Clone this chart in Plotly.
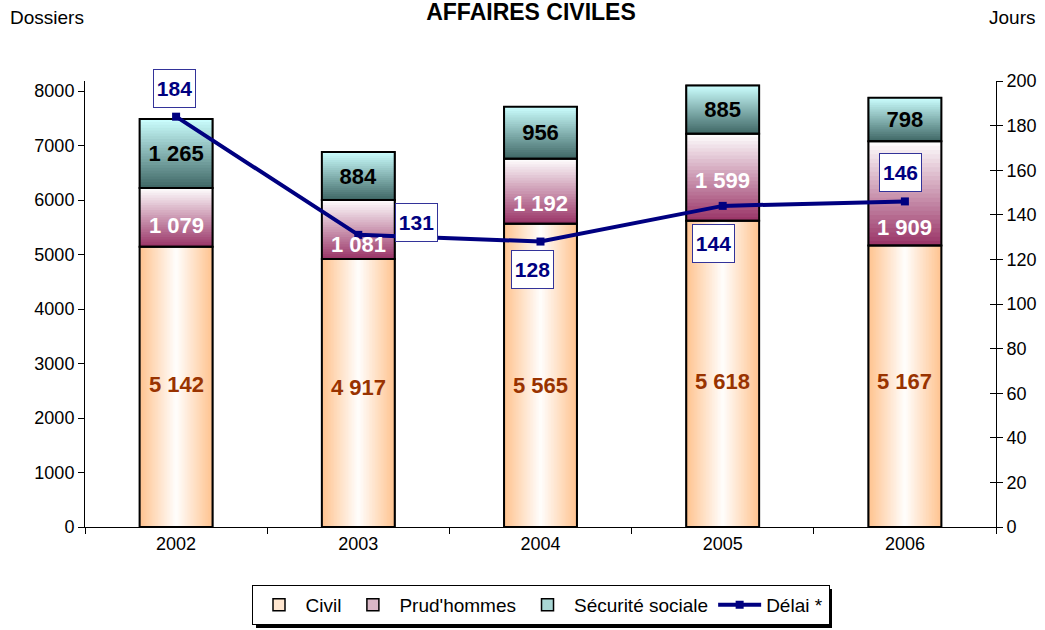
import plotly.graph_objects as go

# ---------------- data ----------------
years = ["2002", "2003", "2004", "2005", "2006"]
civil = [5142, 4917, 5565, 5618, 5167]
prud = [1079, 1081, 1192, 1599, 1909]
secu = [1265, 884, 956, 885, 798]
delai = [184, 131, 128, 144, 146]

# ---------------- style ----------------
FONT = "Liberation Sans, Arial, sans-serif"
NAVY = "#000080"
BAR_W = 0.4
N = 24

W, H = 1045, 630
ML, MR, MT, MB = 85, 49, 81, 103
PW, PH = W - ML - MR, H - MT - MB


def px2paper(x, y):
    return (x - ML) / PW, (H - MB - y) / PH


def lerp(c1, c2, t):
    return "rgb(%d,%d,%d)" % tuple(round(a + (b - a) * t) for a, b in zip(c1, c2))


def fmt(v):
    return f"{v:,}".replace(",", " ")


base_prud = civil
base_secu = [c + p for c, p in zip(civil, prud)]

fig = go.Figure()

# legend / base traces (solid)
for name, vals, base, col in [
    ("Civil", civil, [0] * 5, "#FFE6CF"),
    ("Prud'hommes", prud, base_prud, "#D9B7C6"),
    ("Sécurité sociale", secu, base_secu, "#A9D6D4"),
]:
    fig.add_trace(go.Bar(x=years, y=vals, base=base, name=name, width=BAR_W,
                         marker=dict(color=col, line=dict(color="black", width=1.5)),
                         hoverinfo="skip"))

# gradient: civil horizontal (orange edges -> white centre)
ORANGE = (255, 196, 145)
WHITE = (255, 255, 255)
for k in range(N):
    fig.add_trace(go.Bar(x=years, y=civil, base=[0] * 5, width=BAR_W * (1 - k / N),
                         marker=dict(color=lerp(WHITE, ORANGE, 1 - k / N), line=dict(width=0)),
                         showlegend=False, hoverinfo="skip"))

# gradient: prud'hommes vertical (dark bottom -> white top)
MAROON = (153, 51, 102)
for k in range(N):
    fig.add_trace(go.Bar(x=years, y=[v * (N - k) / N for v in prud],
                         base=[b + v * k / N for b, v in zip(base_prud, prud)],
                         width=BAR_W,
                         marker=dict(color=lerp(MAROON, WHITE, (k + 0.5) / N), line=dict(width=0)),
                         showlegend=False, hoverinfo="skip"))

# gradient: securite sociale vertical (dark teal bottom -> cyan top)
TEAL = (62, 102, 100)
CYAN = (204, 255, 255)
for k in range(N):
    fig.add_trace(go.Bar(x=years, y=[v * (N - k) / N for v in secu],
                         base=[b + v * k / N for b, v in zip(base_secu, secu)],
                         width=BAR_W,
                         marker=dict(color=lerp(TEAL, CYAN, (k + 0.5) / N), line=dict(width=0)),
                         showlegend=False, hoverinfo="skip"))

# outlines (+ labels for the top segment)
for vals, base, show_text in [
    (civil, [0] * 5, False),
    (prud, base_prud, False),
    (secu, base_secu, True),
]:
    kw = {}
    if show_text:
        kw = dict(text=[fmt(v) for v in vals], texttemplate="<b>%{text}</b>",
                  textposition="inside", insidetextanchor="middle",
                  textfont=dict(family=FONT, size=22, color="black"))
    fig.add_trace(go.Bar(x=years, y=vals, base=base, width=BAR_W,
                         marker=dict(color="rgba(0,0,0,0)", line=dict(color="black", width=2)),
                         showlegend=False, hoverinfo="skip", **kw))

# dummy trace hosting the inner tick marks of the right axis
fig.add_trace(go.Scatter(x=years, y=delai, yaxis="y3", mode="markers",
                         marker=dict(opacity=0), showlegend=False, hoverinfo="skip"))

# line
fig.add_trace(go.Scatter(x=years, y=delai, name="Délai *", yaxis="y2", mode="lines+markers",
                         line=dict(color=NAVY, width=4),
                         marker=dict(symbol="square", size=8, color=NAVY),
                         hoverinfo="skip"))

# civil labels (positioned as in source)
civil_shift = [2, 6, -10, -8, 5]
for i, (v, s) in enumerate(zip(civil, civil_shift)):
    fig.add_annotation(x=i, y=v / 2, xref="x", yref="y", text="<b>" + fmt(v) + "</b>",
                       showarrow=False, yshift=s,
                       font=dict(family=FONT, size=22, color="#993300"))

# prud'hommes labels (positioned as in source)
prud_shift = [-8, -15, -12, -3, -34]
for i, (b, v, s) in enumerate(zip(base_prud, prud, prud_shift)):
    fig.add_annotation(x=i, y=b + v / 2, xref="x", yref="y", text="<b>" + fmt(v) + "</b>",
                       showarrow=False, yshift=s,
                       font=dict(family=FONT, size=22, color="white"))

delai_shift = [(-2, 28), (58, 12), (-8, -28), (-9, -38), (-4, 29)]
for i, (v, (dx, dy)) in enumerate(zip(delai, delai_shift)):
    fig.add_annotation(x=i, y=v, xref="x", yref="y2", text="<b>" + str(v) + "</b>",
                       showarrow=False, xshift=dx, yshift=dy, width=37, height=33, borderpad=2,
                       bgcolor="white", bordercolor="#333399", borderwidth=1,
                       font=dict(family=FONT, size=21, color=NAVY))

# corner texts
x0, y0 = px2paper(8, 18)
fig.add_annotation(x=x0, y=y0, xref="paper", yref="paper", xanchor="left", yanchor="middle",
                   text="Dossiers", showarrow=False, font=dict(family=FONT, size=19, color="black"))
x1, y1 = px2paper(1037, 18)
fig.add_annotation(x=x1, y=y1, xref="paper", yref="paper", xanchor="right", yanchor="middle",
                   text="Jours", showarrow=False, font=dict(family=FONT, size=19, color="black"))

# legend drop shadow
sx0, sy0 = px2paper(256, 589)
sx1, sy1 = px2paper(832, 628)
fig.add_shape(type="rect", xref="paper", yref="paper", x0=sx0, y0=sy0, x1=sx1, y1=sy1,
              fillcolor="black", line=dict(width=0), layer="below")

YMAX = 8000 * PH / (527 - 91)

fig.update_layout(
    width=W, height=H,
    margin=dict(l=ML, r=MR, t=MT, b=MB, autoexpand=False),
    paper_bgcolor="white", plot_bgcolor="white",
    barmode="overlay", bargap=0.6,
    font=dict(family=FONT, size=18, color="black"),
    title=dict(text="<b>AFFAIRES CIVILES</b>", x=531 / W, xanchor="center",
               y=1 - 12 / H, yanchor="middle", font=dict(size=23, color="black")),
    xaxis=dict(type="category", range=[-0.5, 4.5], showline=True, linecolor="black", linewidth=1,
               ticks="outside", tickson="boundaries", ticklen=6, tickcolor="black",
               showgrid=False, zeroline=False, tickfont=dict(size=18)),
    yaxis=dict(range=[0, YMAX], tickvals=list(range(0, 8001, 1000)), showline=True,
               linecolor="black", linewidth=1, ticks="outside", ticklen=6, tickcolor="black",
               showgrid=False, zeroline=False, tickfont=dict(size=18)),
    yaxis2=dict(range=[0, 200], tickvals=list(range(0, 201, 20)), overlaying="y", side="right",
                anchor="x", showline=True, linecolor="black", linewidth=1, ticks="outside",
                ticklen=6, tickcolor="black", showgrid=False, zeroline=False,
                tickfont=dict(size=18)),
    yaxis3=dict(range=[0, 200], tickvals=list(range(0, 201, 20)), overlaying="y", side="right",
                anchor="x", showline=False, ticks="inside", ticklen=6, tickcolor="black",
                showticklabels=False, showgrid=False, zeroline=False),
    legend=dict(orientation="h", x=0.5, xanchor="center", y=px2paper(0, 585)[1], yanchor="top",
                bgcolor="white", bordercolor="black", borderwidth=1, itemwidth=43,
                font=dict(size=19, color="black"), traceorder="normal"),
    showlegend=True,
)

fig.write_html("out.html", config={"displayModeBar": False},
               post_script="document.body.style.margin='0';")
